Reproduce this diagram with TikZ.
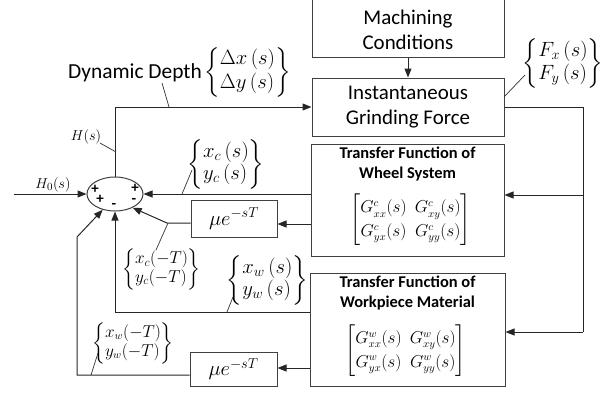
\documentclass[tikz,border=0pt]{standalone}
\usepackage{amsmath}
\usepackage{fontspec}
\newfontfamily\carl{Carlito}
\usetikzlibrary{arrows.meta,shapes.geometric,calc}
\newcommand\bvec[2]{$\left\{\begin{array}{@{}l@{}}#1\\#2\end{array}\right\}$}
\newcommand\gmat[1]{\renewcommand\arraystretch{1.25}\setlength\arraycolsep{4bp}$\begin{bmatrix} G^{#1}_{xx}(s) & G^{#1}_{xy}(s)\\ G^{#1}_{yx}(s) & G^{#1}_{yy}(s)\end{bmatrix}$}
\begin{document}
\begin{tikzpicture}[x=1bp,y=-1bp,
  blk/.style={draw=black!75, line width=1bp, rectangle, inner sep=0pt},
  ln/.style={draw=black!85, line width=1bp},
  arr/.style={ln, -{Triangle[length=9bp,width=7bp]}},
  lead/.style={draw=black!80, line width=0.7bp},
  sanslab/.style={font=\carl\fontsize{21}{25}\selectfont, align=center, inner sep=0pt},
  boldlab/.style={font=\carl\bfseries\fontsize{16.5}{19.5}\selectfont, align=center, inner sep=0pt},
  mlab/.style={inner sep=0pt, font=\fontsize{#1}{#1}\selectfont},
  sgn/.style={inner sep=0pt, font=\carl\bfseries\fontsize{15}{15}\selectfont}
]
\useasboundingbox (0,0) rectangle (605,394);

% blocks
\node[blk, minimum width=192bp, minimum height=80bp] (mach) at (408,17) {};
\node[sanslab] (machtxt) at (408,30) {Machining\\Conditions};
\node[blk, sanslab, minimum width=192bp, minimum height=58bp] (inst) at (408,107) {Instantaneous\\Grinding Force};

\node[blk, minimum width=193bp, minimum height=112bp] (wheel) at (407.5,200) {};
\node[boldlab] (wheeltxt) at (407.5,164) {Transfer Function of\\Wheel System};
\node[inner sep=0pt, font=\fontsize{16}{19}\selectfont] (wheelmat) at (410.5,220) {\gmat{c}};

\node[blk, minimum width=195bp, minimum height=113bp] (work) at (407.5,329.5) {};
\node[boldlab] (worktxt) at (407.5,293) {Transfer Function of\\Workpiece Material};
\node[inner sep=0pt, font=\fontsize{16}{19}\selectfont] (workmat) at (405.5,350.5) {\gmat{w}};

\node[blk, minimum width=86bp, minimum height=37bp, mlab=22] (mu1) at (234,218.5) {$\mu e^{-sT}$};
\node[blk, minimum width=87bp, minimum height=34bp, mlab=22] (mu2) at (233.5,369) {$\mu e^{-sT}$};

\node[draw=black!75, line width=1bp, ellipse, minimum width=56bp, minimum height=34bp, inner sep=0pt] (sum) at (115,194) {};
\node[sgn] (s1) at (95,189) {+};
\node[sgn] (s2) at (100,199) {+};
\node[sgn] (s3) at (114,206) {-};
\node[sgn] (s4) at (135,188.5) {+};
\node[sgn] (s5) at (134,201) {-};

% coordinates
\coordinate (in) at (14,194);
\coordinate (rc) at (583,107);
\coordinate (rb) at (583,332);
\coordinate (k1) at (167,223);
\coordinate (k2) at (77,375);
\coordinate (k3) at (77,237);

% connectors
\draw[arr] (mach.south) -- (inst.north);
\draw[arr] (sum.north) |- (inst.west);
\draw[ln] (inst.east) -- (rc) -- (rb);
\draw[arr] (rb) -- (work.east |- rb);
\draw[arr] (rc |- 0,195) -- (wheel.east |- 0,195);
\draw[arr] (wheel.west |- sum.east) -- (sum.east);
\draw[arr] (wheel.west |- 0,224) -- (mu1.east |- 0,224);
\draw[arr] (mu1.west |- k1) -- (k1) -- (sum.-38);
\draw[arr] (work.west |- 0,312) -- (sum.south |- 0,312) -- (sum.south);
\draw[arr] (work.west |- 0,368) -- (mu2.east |- 0,368);
\draw[arr] (mu2.west |- k2) -- (k2) -- (k3) -- (sum.-128);
\draw[arr] (in) -- (sum.west);

% labels
\node[mlab=15] (h0) at (53,185) {$H_0(s)$};
\node[mlab=15] (hs) at (86,137) {$H(s)$};
\node[sanslab, font=\carl\fontsize{21.5}{25}\selectfont] (dd) at (135,73) {Dynamic Depth};
\node[mlab=20] (dlab) at (247.5,72) {\renewcommand\arraystretch{1.2}\bvec{\Delta x\,(s)}{\Delta y\,(s)}};
\node[mlab=20] (flab) at (563,63) {\renewcommand\arraystretch{1.15}\bvec{F_x\,(s)}{F_y\,(s)}};
\node[mlab=20] (xclab) at (226,164) {\renewcommand\arraystretch{1.1}\bvec{x_c\,(s)}{y_c\,(s)}};
\node[mlab=17] (xcTlab) at (161.5,269) {\renewcommand\arraystretch{1.1}\bvec{x_c(-T)}{y_c(-T)}};
\node[mlab=20] (xwlab) at (267.5,280) {\renewcommand\arraystretch{1.05}\bvec{x_w\,(s)}{y_w\,(s)}};
\node[mlab=16] (xwTlab) at (133,343) {\renewcommand\arraystretch{1.2}\bvec{x_w(-T)}{y_w(-T)}};

% leader lines
\coordinate (l1a) at (100,143); \coordinate (l1b) at (116,152);
\coordinate (l2a) at (162,83);  \coordinate (l2b) at (169,107);
\coordinate (l3a) at (504,97);  \coordinate (l3b) at (525,75);
\coordinate (l4a) at (182,194); \coordinate (l4b) at (192,170);
\coordinate (l5a) at (168,223); \coordinate (l5b) at (156,250);
\coordinate (l6a) at (227,312); \coordinate (l6b) at (233,297);
\coordinate (l7a) at (91,375);  \coordinate (l7b) at (98,353);
\draw[lead] (l1a) -- (l1b);
\draw[lead] (l2a) -- (l2b);
\draw[lead] (l3a) -- (l3b);
\draw[lead] (l4a) -- (l4b);
\draw[lead] (l5a) -- (l5b);
\draw[lead] (l6a) -- (l6b);
\draw[lead] (l7a) -- (l7b);
\end{tikzpicture}
\end{document}
